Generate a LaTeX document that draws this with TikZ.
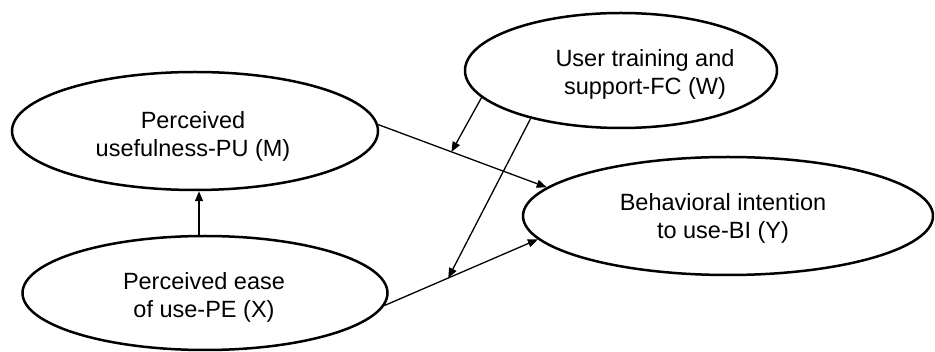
\documentclass[tikz,border=0pt]{standalone}
\usepackage{fontspec}
\setmainfont{Liberation Sans}
\usetikzlibrary{shapes.geometric,arrows.meta}
\begin{document}
\begin{tikzpicture}[x=1pt,y=-1pt,
  construct/.style={draw,ellipse,line width=2.5pt,inner sep=0pt},
  label text/.style={align=center,inner sep=0pt,font=\fontsize{23.5}{28}\selectfont},
  arr/.style={line width=1.3pt,-{Triangle[length=10pt,width=8pt]}}]
\useasboundingbox (0,0) rectangle (935,352);
\node[construct,minimum width=366pt,minimum height=118pt] (M) at (195,131) {};
\node[construct,minimum width=365pt,minimum height=114pt] (X) at (205,293) {};
\node[construct,minimum width=312pt,minimum height=115pt] (W) at (621,70.5) {};
\node[construct,minimum width=410pt,minimum height=118pt] (Y) at (728,216) {};
\node[label text] (Mt) at (193,136) {Perceived\\usefulness-PU (M)};
\node[label text] (Xt) at (204,297) {Perceived ease\\of use-PE (X)};
\node[label text] (Wt) at (645,74) {User training and\\support-FC (W)};
\node[label text] (Yt) at (723,218.5) {Behavioral intention\\to use-BI (Y)};
\coordinate (mid) at (199,0);
\draw[arr] (X.north -| mid) -- (M.south -| mid);
\draw[arr] (M.2.5) -- (Y.171) coordinate[pos=0.435] (p1);
\draw[arr] (X.-4) -- (Y.187.8) coordinate[pos=0.416] (p2);
\draw[arr] (W.191) -- (p1);
\draw[arr] (W.208.6) -- (p2);
\end{tikzpicture}
\end{document}
